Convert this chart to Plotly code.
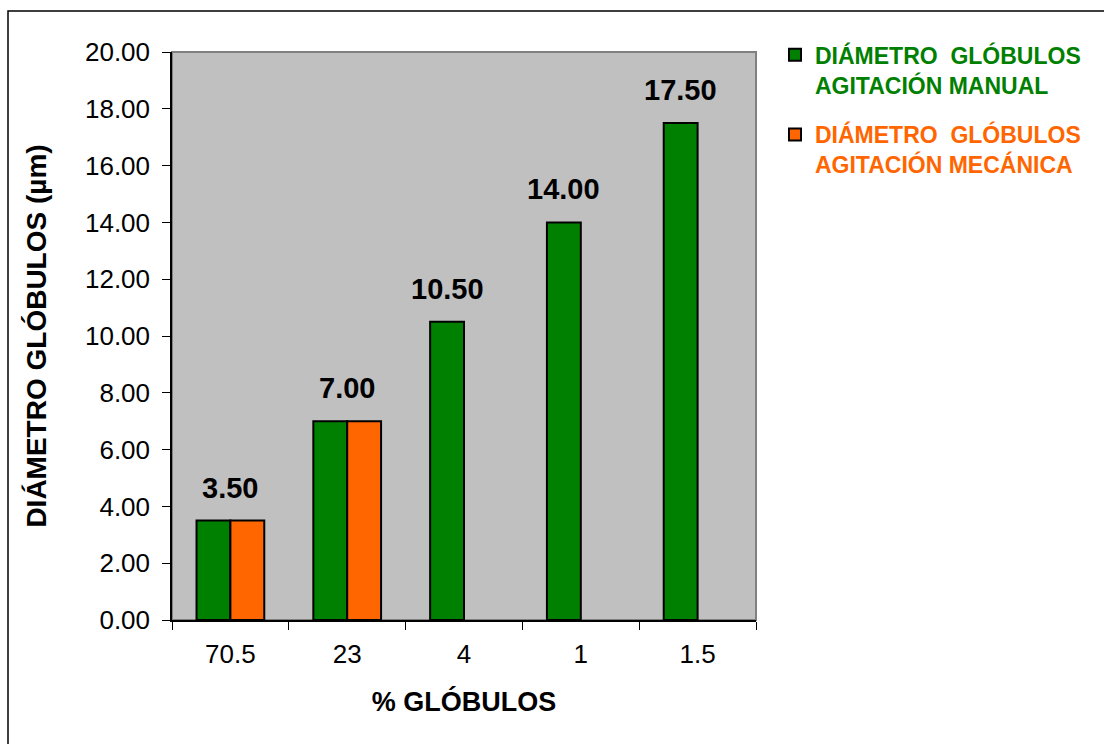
import plotly.graph_objects as go

# Categories (% of globules) and measured globule diameters (µm)
categorias = ["70.5", "23", "4", "1", "1.5"]
diametro_manual = [3.50, 7.00, 10.50, 14.00, 17.50]
diametro_mecanica = [3.50, 7.00, None, None, None]

nombre_manual = "DIÁMETRO\u00a0\u00a0GLÓBULOS<br>AGITACIÓN MANUAL"
nombre_mecanica = "DIÁMETRO\u00a0\u00a0GLÓBULOS<br>AGITACIÓN MECÁNICA"

VERDE = "#008000"
NARANJA = "#FF6600"
FONT = "Liberation Sans, Arial, sans-serif"

fig = go.Figure()
fig.add_trace(go.Bar(
    x=categorias, y=diametro_manual, legendgroup="manual",
    name=f"<span style='color:{VERDE}'>{nombre_manual}</span>",
    marker=dict(color=VERDE, line=dict(color="black", width=2)),
))
fig.add_trace(go.Bar(
    x=categorias, y=diametro_mecanica, legendgroup="mecanica",
    name=f"<span style='color:{NARANJA}'>{nombre_mecanica}</span>",
    marker=dict(color=NARANJA, line=dict(color="black", width=2)),
))

# Value labels: centred on the group when both series exist, else on the green bar
for i, (v_man, v_mec) in enumerate(zip(diametro_manual, diametro_mecanica)):
    fig.add_annotation(
        x=i, y=v_man, text=f"{v_man:.2f}",
        showarrow=False, yanchor="bottom", yshift=15,
        xshift=0 if v_mec is not None else -17,
        font=dict(family=FONT, size=29, color="black", weight="bold"),
    )

# Plot-area frame (grey) and outer chart border
fig.add_shape(type="rect", xref="paper", yref="paper", x0=0, x1=1, y0=0, y1=1,
              line=dict(color="#808080", width=2), layer="below")
fig.add_shape(type="rect", xref="paper", yref="paper",
              x0=(8 - 172) / 584, x1=2.0, y0=-1.0, y1=(620 - 11) / 568,
              line=dict(color="black", width=1.5), layer="below")

fig.update_layout(
    width=1104, height=744,
    margin=dict(l=172, r=348, t=52, b=124),
    paper_bgcolor="white", plot_bgcolor="#C0C0C0",
    barmode="group", bargap=0.42, bargroupgap=0,
    font=dict(family=FONT, color="black"),
    showlegend=True,
    legend=dict(
        x=1.0325, y=1.033, xanchor="left", yanchor="top",
        font=dict(family=FONT, size=23, weight="bold"),
        bgcolor="rgba(0,0,0,0)", tracegroupgap=17, valign="top",
    ),
    xaxis=dict(
        type="category", range=[-0.5, len(categorias) - 0.5], autorange=False,
        title=dict(text="% GLÓBULOS", font=dict(family=FONT, size=27, weight="bold"), standoff=24),
        tickfont=dict(family=FONT, size=26), tickangle=0, ticklabelstandoff=10,
        showline=True, linecolor="black", linewidth=1.5,
        ticks="outside", ticklen=8, tickcolor="black", tickson="boundaries",
        showgrid=False, zeroline=False,
    ),
    yaxis=dict(
        title=dict(text="DIÁMETRO GLÓBULOS (µm)", font=dict(family=FONT, size=28, weight="bold"), standoff=30),
        tickfont=dict(family=FONT, size=26), ticklabelstandoff=7,
        range=[0, 20], autorange=False,
        tickvals=[0, 2, 4, 6, 8, 10, 12, 14, 16, 18, 20], tickformat=".2f",
        showline=True, linecolor="black", linewidth=1.5,
        ticks="outside", ticklen=8, tickcolor="black",
        showgrid=False, zeroline=False,
    ),
)

fig.write_html("out.html")
